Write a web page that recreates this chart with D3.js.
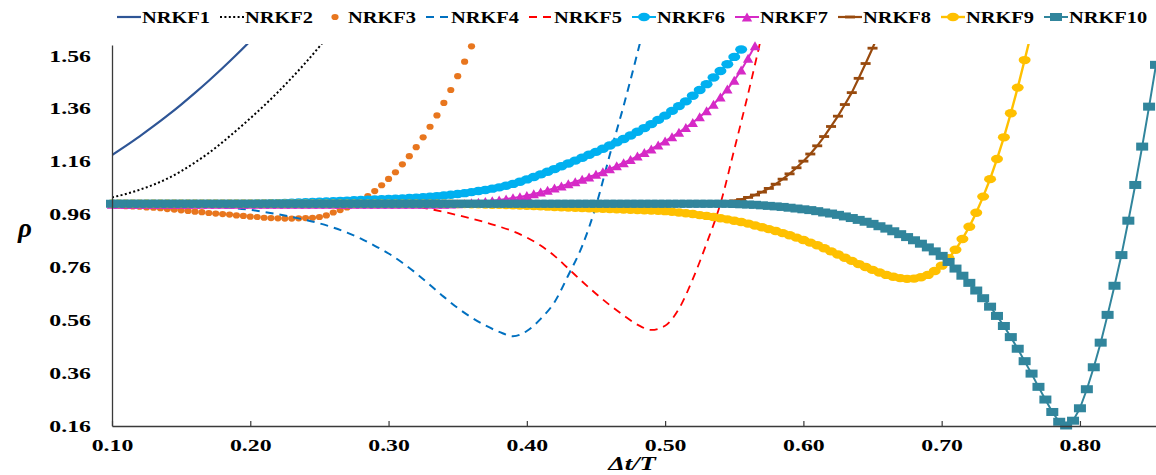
<!DOCTYPE html>
<html>
<head>
<meta charset="utf-8">
<script src="https://cdn.jsdelivr.net/npm/d3@7"></script>
<style>
  body { margin: 0; background: #fff; }
  svg { display: block; }
</style>
</head>
<body>
<svg id="chart" width="1156" height="475"></svg>
<script>
// ---- data -------------------------------------------------------------
const seriesNames = ["NRKF1", "NRKF2", "NRKF3", "NRKF4", "NRKF5",
                     "NRKF6", "NRKF7", "NRKF8", "NRKF9", "NRKF10"];

// every series is sampled on a regular Δt/T grid starting at 0.10
const xStart = 0.10;
const coarseStep = 0.01;   // NRKF1, NRKF2, NRKF4, NRKF5
const fineStep = 0.005;    // marker series

const nrkf1 = [1.184, 1.219, 1.255, 1.293, 1.333, 1.375, 1.419, 1.465, 1.513, 1.563, 1.615];

const nrkf2 = [1.024, 1.037, 1.053, 1.072, 1.095, 1.123, 1.156, 1.192, 1.233, 1.277,
               1.323, 1.371, 1.422, 1.476, 1.533, 1.594, 1.658];

const nrkf3 = [0.995, 0.993, 0.991, 0.990, 0.989, 0.986, 0.985, 0.983, 0.980, 0.978,
               0.975, 0.973, 0.970, 0.968, 0.965, 0.963, 0.961, 0.959, 0.956, 0.954,
               0.951, 0.950, 0.947, 0.946, 0.945, 0.944, 0.944, 0.945, 0.946, 0.947,
               0.950, 0.956, 0.967, 0.976, 0.986, 0.999, 1.013, 1.029, 1.048, 1.070,
               1.094, 1.119, 1.149, 1.180, 1.214, 1.251, 1.291, 1.334, 1.381, 1.430,
               1.482, 1.537, 1.595];

const nrkf4 = [1.000, 1.000, 0.999, 0.998, 0.997, 0.995, 0.993, 0.990, 0.987, 0.983,
               0.977, 0.969, 0.960, 0.950, 0.939, 0.926, 0.910, 0.891, 0.868, 0.841,
               0.812, 0.777, 0.737, 0.693, 0.648, 0.606, 0.570, 0.540, 0.516, 0.499,
               0.519, 0.565, 0.628, 0.730, 0.840, 0.992, 1.185, 1.370, 1.570, 1.780];

const nrkf5 = [1.000, 1.000, 1.000, 1.000, 1.000, 1.000, 1.000, 1.000, 1.000, 1.000,
               1.000, 1.000, 1.000, 1.000, 1.000, 1.000, 1.000, 1.000, 1.000, 1.000,
               0.998, 0.995, 0.989, 0.980, 0.969, 0.957, 0.944, 0.930, 0.914, 0.896,
               0.872, 0.842, 0.803, 0.755, 0.706, 0.660, 0.617, 0.578, 0.543, 0.523,
               0.539, 0.603, 0.715, 0.850, 1.000, 1.205, 1.415, 1.640];

const nrkf6 = [1.000, 1.000, 1.000, 1.000, 1.000, 1.000, 1.000, 1.000, 1.000, 1.000,
               1.000, 1.000, 1.000, 1.000, 1.000, 1.000, 1.000, 1.000, 1.000, 1.000,
               1.000, 1.001, 1.001, 1.002, 1.002, 1.003, 1.004, 1.005, 1.006, 1.007,
               1.008, 1.009, 1.010, 1.011, 1.012, 1.013, 1.014, 1.015, 1.016, 1.017,
               1.018, 1.019, 1.020, 1.022, 1.023, 1.025, 1.027, 1.029, 1.031, 1.034,
               1.037, 1.040, 1.044, 1.048, 1.052, 1.057, 1.062, 1.068, 1.075, 1.083,
               1.092, 1.101, 1.111, 1.121, 1.131, 1.142, 1.152, 1.163, 1.174, 1.185,
               1.196, 1.208, 1.220, 1.232, 1.245, 1.258, 1.272, 1.286, 1.301, 1.317,
               1.333, 1.351, 1.369, 1.387, 1.408, 1.430, 1.452, 1.477, 1.502, 1.527,
               1.555, 1.583];

const nrkf7 = [0.998, 0.998, 0.998, 0.998, 0.998, 0.998, 0.998, 0.998, 0.998, 0.998,
               0.998, 0.998, 0.998, 0.998, 0.998, 0.998, 0.998, 0.998, 0.998, 0.998,
               0.998, 0.998, 0.998, 0.998, 0.998, 0.998, 0.998, 0.998, 0.998, 0.998,
               0.998, 0.998, 0.998, 0.998, 0.998, 0.998, 0.998, 0.998, 0.998, 0.998,
               0.998, 0.998, 0.998, 0.998, 0.998, 0.998, 0.998, 0.998, 0.998, 0.999,
               1.000, 1.001, 1.003, 1.005, 1.008, 1.011, 1.014, 1.018, 1.022, 1.026,
               1.031, 1.037, 1.044, 1.051, 1.059, 1.067, 1.075, 1.083, 1.092, 1.101,
               1.111, 1.121, 1.132, 1.143, 1.155, 1.167, 1.180, 1.193, 1.207, 1.222,
               1.237, 1.253, 1.270, 1.288, 1.307, 1.328, 1.351, 1.376, 1.403, 1.433,
               1.466, 1.505, 1.550, 1.597];

const nrkf8 = [1.000, 1.000, 1.000, 1.000, 1.000, 1.000, 1.000, 1.000, 1.000, 1.000,
               1.000, 1.000, 1.000, 1.000, 1.000, 1.000, 1.000, 1.000, 1.000, 1.000,
               1.000, 1.000, 1.000, 1.000, 1.000, 1.000, 1.000, 1.000, 1.000, 1.000,
               1.000, 1.000, 1.000, 1.000, 1.000, 1.000, 1.000, 1.000, 1.000, 1.000,
               1.000, 1.000, 1.000, 1.000, 1.000, 1.000, 1.000, 1.000, 1.000, 1.000,
               1.000, 1.000, 1.000, 1.000, 1.000, 1.000, 1.000, 1.000, 1.000, 1.000,
               1.000, 1.000, 1.000, 1.000, 1.000, 1.000, 1.000, 1.000, 1.000, 1.000,
               1.000, 1.000, 1.000, 1.000, 1.000, 1.000, 1.000, 1.000, 1.000, 1.000,
               1.000, 1.000, 1.000, 1.000, 1.000, 1.000, 1.000, 1.002, 1.004, 1.007,
               1.011, 1.016, 1.024, 1.033, 1.044, 1.058, 1.074, 1.093, 1.113, 1.136,
               1.161, 1.188, 1.219, 1.254, 1.292, 1.331, 1.375, 1.420, 1.474, 1.530,
               1.588, 1.650];

const nrkf9 = [1.000, 1.000, 1.000, 1.000, 1.000, 1.000, 1.000, 1.000, 1.000, 1.000,
               1.000, 1.000, 1.000, 1.000, 1.000, 1.000, 1.000, 1.000, 1.000, 1.000,
               1.000, 1.000, 1.000, 1.000, 1.000, 1.000, 1.000, 1.000, 1.000, 1.000,
               1.000, 1.000, 1.000, 1.000, 1.000, 1.000, 1.000, 1.000, 1.000, 1.000,
               1.000, 1.000, 1.000, 1.000, 1.000, 1.000, 1.000, 1.000, 1.000, 1.000,
               0.999, 0.999, 0.998, 0.998, 0.997, 0.996, 0.996, 0.995, 0.994, 0.993,
               0.992, 0.991, 0.990, 0.989, 0.988, 0.987, 0.986, 0.985, 0.984, 0.983,
               0.982, 0.981, 0.980, 0.979, 0.978, 0.977, 0.976, 0.975, 0.974, 0.973,
               0.972, 0.970, 0.967, 0.964, 0.961, 0.957, 0.954, 0.950, 0.945, 0.941,
               0.936, 0.931, 0.925, 0.918, 0.911, 0.904, 0.897, 0.889, 0.881, 0.872,
               0.863, 0.853, 0.843, 0.832, 0.820, 0.808, 0.796, 0.784, 0.772, 0.761,
               0.750, 0.740, 0.731, 0.724, 0.719, 0.716, 0.717, 0.722, 0.731, 0.746,
               0.766, 0.794, 0.826, 0.867, 0.913, 0.966, 1.027, 1.093, 1.169, 1.251,
               1.342, 1.439, 1.543, 1.650];

const nrkf10 = [1.000, 1.000, 1.000, 1.000, 1.000, 1.000, 1.000, 1.000, 1.000, 1.000,
                1.000, 1.000, 1.000, 1.000, 1.000, 1.000, 1.000, 1.000, 1.000, 1.000,
                1.000, 1.000, 1.000, 1.000, 1.000, 1.000, 1.000, 1.000, 1.000, 1.000,
                1.000, 1.000, 1.000, 1.000, 1.000, 1.000, 1.000, 1.000, 1.000, 1.000,
                1.000, 1.000, 1.000, 1.000, 1.000, 1.000, 1.000, 1.000, 1.000, 1.000,
                1.000, 1.000, 1.000, 1.000, 1.000, 1.000, 1.000, 1.000, 1.000, 1.000,
                1.000, 1.000, 1.000, 1.000, 1.000, 1.000, 1.000, 1.000, 1.000, 1.000,
                1.000, 1.000, 1.000, 1.000, 1.000, 1.000, 1.000, 1.000, 1.000, 1.000,
                1.000, 1.000, 1.000, 1.000, 1.000, 1.000, 1.000, 1.000, 1.000, 1.000,
                0.999, 0.998, 0.997, 0.996, 0.994, 0.992, 0.990, 0.988, 0.985, 0.982,
                0.979, 0.976, 0.972, 0.967, 0.963, 0.958, 0.952, 0.946, 0.939, 0.932,
                0.924, 0.915, 0.906, 0.896, 0.885, 0.874, 0.862, 0.849, 0.835, 0.820,
                0.803, 0.780, 0.755, 0.728, 0.701, 0.672, 0.643, 0.611, 0.576, 0.538,
                0.496, 0.452, 0.405, 0.358, 0.308, 0.260, 0.213, 0.176, 0.162, 0.180,
                0.227, 0.299, 0.382, 0.475, 0.580, 0.690, 0.806, 0.936, 1.071, 1.216,
                1.367, 1.525];

const xTicks = [0.10, 0.20, 0.30, 0.40, 0.50, 0.60, 0.70, 0.80];
const yTicks = [0.16, 0.36, 0.56, 0.76, 0.96, 1.16, 1.36, 1.56];
const xDomain = [0.10, 0.855];
const yDomain = [0.16, 1.60];

// ---- styling ----------------------------------------------------------
const styles = [
  { values: nrkf1,  step: coarseStep, color: "#2E5596", width: 2.2, dash: null,    marker: null,       smooth: true },
  { values: nrkf2,  step: coarseStep, color: "#000000", width: 2.0, dash: "2,2.4", marker: null,       smooth: true },
  { values: nrkf3,  step: fineStep,   color: "#E8761E", width: 0,   dash: null,    marker: "dot" },
  { values: nrkf4,  step: coarseStep, color: "#0070C0", width: 2.0, dash: "8,6",   marker: null,       smooth: true },
  { values: nrkf5,  step: coarseStep, color: "#FF0000", width: 1.8, dash: "8,6",   marker: null,       smooth: true },
  { values: nrkf6,  step: fineStep,   color: "#00B0F0", width: 2.0, dash: null,    marker: "ellipse" },
  { values: nrkf7,  step: fineStep,   color: "#D62AC6", width: 2.0, dash: null,    marker: "triangle" },
  { values: nrkf8,  step: fineStep,   color: "#984A0E", width: 2.2, dash: null,    marker: "bar" },
  { values: nrkf9,  step: fineStep,   color: "#FFC000", width: 2.4, dash: null,    marker: "ellipse" },
  { values: nrkf10, step: fineStep,   color: "#31859C", width: 2.0, dash: null,    marker: "square" }
];

const W = 1156, H = 475;
const plot = { left: 112, right: 1156, top: 45, bottom: 426 };
const fontFamily = "'Liberation Serif', 'Times New Roman', Times, serif";
const stretch = 1.4;      // wide glyph look of the axis text
const legendStretch = 1.2;

const svg = d3.select("#chart");

const x = d3.scaleLinear().domain(xDomain).range([plot.left, plot.right]);
const y = d3.scaleLinear().domain(yDomain).range([plot.bottom, plot.top]);

svg.append("defs").append("clipPath").attr("id", "plotClip")
  .append("rect")
  .attr("x", plot.left).attr("y", plot.top - 1)
  .attr("width", plot.right - plot.left).attr("height", plot.bottom - plot.top + 6);

function toPoints(s) {
  return s.values.map((v, i) => ({ x: Math.round((xStart + i * s.step) * 1000) / 1000, v }));
}

function drawMarker(sel, kind, color) {
  if (kind === "dot") {
    sel.append("ellipse").attr("rx", 3.6).attr("ry", 3.1).attr("fill", color);
  } else if (kind === "ellipse") {
    sel.append("ellipse").attr("rx", 6).attr("ry", 4.2).attr("fill", color);
  } else if (kind === "triangle") {
    sel.append("path").attr("d", "M0,-4.6L5.2,4.4L-5.2,4.4Z").attr("fill", color);
  } else if (kind === "bar") {
    sel.append("rect").attr("x", -5).attr("y", -1.4).attr("width", 10).attr("height", 2.8).attr("fill", color);
  } else if (kind === "square") {
    sel.append("rect").attr("x", -6).attr("y", -4).attr("width", 12).attr("height", 8).attr("fill", color);
  }
}

// ---- series -----------------------------------------------------------
const seriesLayer = svg.append("g");
styles.forEach((s, k) => {
  const pts = toPoints(s);
  const g = seriesLayer.append("g").attr("class", "series-" + seriesNames[k]);
  if (s.width > 0) {
    const line = d3.line()
      .x(d => x(d.x)).y(d => y(d.v))
      .curve(s.smooth ? d3.curveMonotoneX : d3.curveLinear);
    g.append("path")
      .attr("clip-path", "url(#plotClip)")
      .attr("d", line(pts))
      .attr("fill", "none")
      .attr("stroke", s.color)
      .attr("stroke-width", s.width)
      .attr("stroke-dasharray", s.dash)
      .attr("stroke-linejoin", "round");
  }
  if (s.marker) {
    g.selectAll("g.m").data(pts.filter(d => d.v <= yDomain[1] + 0.001))
      .join("g").attr("class", "m")
      .attr("transform", d => `translate(${x(d.x)},${y(d.v)})`)
      .each(function () { drawMarker(d3.select(this), s.marker, s.color); });
  }
});

// ---- axes -------------------------------------------------------------
const axisColor = "#3a3a3a";

const xAxis = svg.append("g")
  .attr("transform", `translate(0,${plot.bottom})`)
  .call(d3.axisBottom(x).tickValues(xTicks).tickFormat(d3.format(".2f"))
        .tickSizeInner(-5).tickSizeOuter(0).tickPadding(13));
xAxis.select(".domain").attr("stroke", axisColor).attr("stroke-width", 1.3);
xAxis.selectAll(".tick line").attr("stroke", axisColor).attr("stroke-width", 1.2);
xAxis.selectAll(".tick text")
  .attr("fill", "#000").attr("font-family", fontFamily)
  .attr("font-size", 17).attr("font-weight", "bold")
  .attr("transform", `scale(${stretch},1)`);

const yAxis = svg.append("g")
  .attr("transform", `translate(${plot.left},0)`)
  .call(d3.axisLeft(y).tickValues(yTicks).tickFormat(d3.format(".2f"))
        .tickSizeInner(0).tickSizeOuter(0).tickPadding(21));
yAxis.select(".domain").attr("stroke", axisColor).attr("stroke-width", 1.3);
yAxis.selectAll(".tick line").remove();
yAxis.selectAll(".tick text")
  .attr("fill", "#000").attr("font-family", fontFamily)
  .attr("font-size", 17).attr("font-weight", "bold")
  .attr("x", -21 / stretch)
  .attr("transform", `scale(${stretch},1)`);

// axis titles
svg.append("g").attr("transform", "translate(632,470)")
  .append("text")
  .attr("text-anchor", "middle")
  .attr("font-family", fontFamily).attr("font-size", 19)
  .attr("font-weight", "bold").attr("font-style", "italic")
  .attr("transform", `scale(${stretch},1)`)
  .text("Δt/T");

svg.append("text")
  .attr("x", 25).attr("y", 237)
  .attr("text-anchor", "middle")
  .attr("font-family", fontFamily).attr("font-size", 27)
  .attr("font-weight", "bold").attr("font-style", "italic")
  .text("ρ");

// ---- legend -----------------------------------------------------------
const legendY = 17;
const legendX0 = 117, legendGap = 103, sampleW = 24;
const legend = svg.append("g");
styles.forEach((s, k) => {
  const g = legend.append("g").attr("transform", `translate(${legendX0 + k * legendGap},${legendY})`);
  if (s.width > 0) {
    g.append("line").attr("x1", 0).attr("x2", sampleW).attr("y1", 0).attr("y2", 0)
      .attr("stroke", s.color).attr("stroke-width", s.width)
      .attr("stroke-dasharray", s.dash);
  }
  if (s.marker) {
    const m = g.append("g").attr("transform", `translate(${sampleW / 2},0)`);
    drawMarker(m, s.marker, s.color);
  }
  g.append("g").attr("transform", `translate(${sampleW + 1},0)`)
    .append("text")
    .attr("dy", "0.34em")
    .attr("font-family", fontFamily).attr("font-size", 17).attr("font-weight", "bold")
    .attr("fill", "#000")
    .attr("transform", `scale(${legendStretch},1)`)
    .text(seriesNames[k]);
});
</script>
</body>
</html>
